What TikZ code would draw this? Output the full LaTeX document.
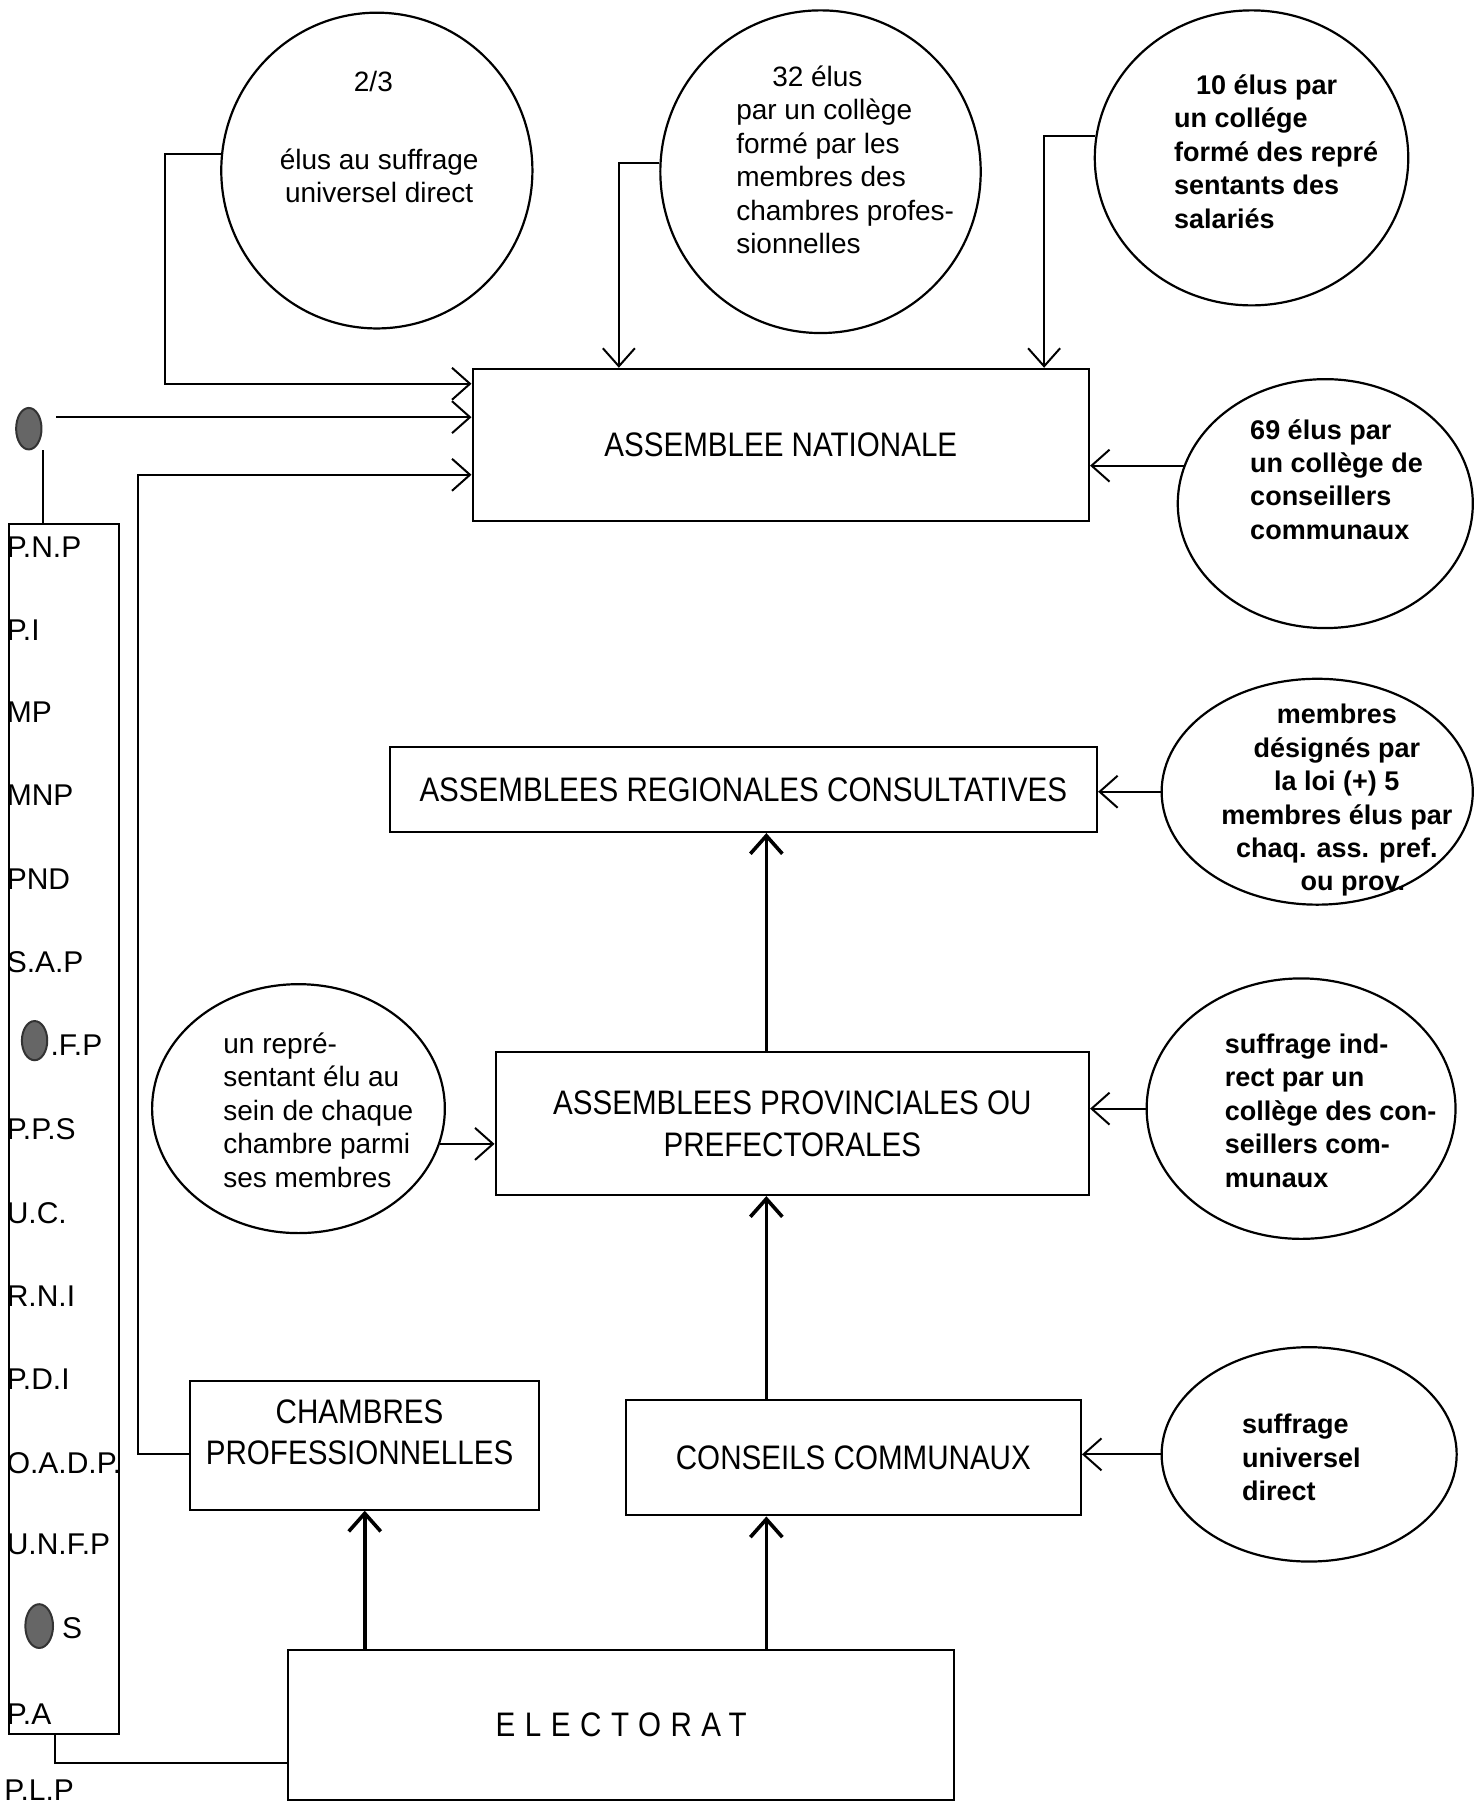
\documentclass[tikz,border=0pt]{standalone}
\usepackage{fontspec}
\setmainfont{Liberation Sans}
\newfontfamily\boxfont[FakeStretch=0.87]{Liberation Sans}
\newfontfamily\elfont[FakeStretch=0.87,LetterSpace=28]{Liberation Sans}
\newfontfamily\labfont{Liberation Sans}
\usetikzlibrary{arrows.meta,shapes.geometric,calc}
\newcommand\unitpx{0.57625pt}

\begin{document}
\begin{tikzpicture}[x=0.57625pt,y=-0.57625pt,
  line width=1pt,
  circ/.style={ellipse, draw, line width=1.1pt, inner sep=0pt},
  box/.style={draw, rectangle, inner sep=0pt, align=center,
    font=\boxfont\fontsize{17}{20.7}\selectfont},
  reg/.style={inner sep=0pt, font=\fontsize{14}{16.7}\selectfont},
  bld/.style={inner sep=0pt, font=\bfseries\fontsize{13.5}{16.7}\selectfont},
  party/.style={inner sep=0pt, anchor=base west, font=\labfont\fontsize{15}{16}\selectfont},
  arr/.style={-{Straight Barb[length=9pt,width=16pt]}},
  stem/.style={line width=1.8pt},
  blob/.style={ellipse, fill=black!60, draw=black!80, inner sep=0pt}
]
\useasboundingbox (0,0) rectangle (1285,1568);

% ---- ellipses with the election rules ----
\node[circ, minimum width=270*\unitpx, minimum height=274*\unitpx] (A) at (327,148) {};
\node[circ, minimum width=278*\unitpx, minimum height=280*\unitpx] (B) at (712,149) {};
\node[circ, minimum width=272*\unitpx, minimum height=256*\unitpx] (C) at (1086,137) {};
\node[circ, minimum width=256*\unitpx, minimum height=216*\unitpx] (D) at (1150,437) {};
\node[circ, minimum width=270*\unitpx, minimum height=196*\unitpx] (E) at (1143,687) {};
\node[circ, minimum width=254*\unitpx, minimum height=216*\unitpx] (F) at (259,962) {};
\node[circ, minimum width=268*\unitpx, minimum height=226*\unitpx] (G) at (1129,962) {};
\node[circ, minimum width=256*\unitpx, minimum height=186*\unitpx] (H) at (1136,1262) {};

% texts inside the ellipses (anchored on the baseline of their last line)
\node[reg, anchor=base] (At1) at (324,79) {2/3};
\node[reg, anchor=base, align=center] (At2) at (329,176) {élus au suffrage\\universel direct};
\node[reg, anchor=base west, align=left] (Bt) at (638,220)
  {\hspace*{18pt}32 élus\\par un collège\\formé par les\\membres des\\chambres profes-\\sionnelles};
\node[bld, anchor=base west, align=left] (Ct) at (1018,198)
  {\hspace*{11pt}10 élus par\\un collége\\formé des repré\\sentants des\\salariés};
\node[bld, anchor=base west, align=left] (Dt) at (1084,468)
  {69 élus par\\un collège de\\conseillers\\communaux};
\node[bld, anchor=base, align=center] (Et) at (1160,773)
  {membres\\désignés par\\la loi (+) 5\\membres élus par\\chaq. ass. pref.\\\hspace*{16pt}ou prov.};
\node[reg, anchor=base west, align=left] (Ft) at (193,1030)
  {un repré-\\sentant élu au\\sein de chaque\\chambre parmi\\ses membres};
\node[bld, anchor=base west, align=left] (Gt) at (1062,1030)
  {suffrage ind-\\rect par un\\collège des con-\\seillers com-\\munaux};
\node[bld, anchor=base west, align=left] (Ht) at (1077,1302)
  {suffrage\\universel\\direct};

% ---- institutions ----
\node[box, minimum width=535*\unitpx, minimum height=132*\unitpx] (AN) at (677.5,386) {ASSEMBLEE NATIONALE};
\node[box, minimum width=614*\unitpx, minimum height=74*\unitpx] (ARC) at (645,685) {ASSEMBLEES REGIONALES CONSULTATIVES};
\node[box, minimum width=515*\unitpx, minimum height=124*\unitpx] (APP) at (687.5,975) {ASSEMBLEES PROVINCIALES OU\\PREFECTORALES};
\node[box, minimum width=303*\unitpx, minimum height=112*\unitpx] (CH) at (316.5,1254) {};
\node[box, draw=none, anchor=center] (CHt) at (312,1243) {CHAMBRES\\PROFESSIONNELLES};
\node[box, minimum width=395*\unitpx, minimum height=100*\unitpx] (CC) at (740.5,1265) {CONSEILS COMMUNAUX};
\node[box, minimum width=578*\unitpx, minimum height=130*\unitpx] (EL) at (539,1497) {\elfont\fontsize{17}{20}\selectfont ELECTORAT};

% ---- column of political parties ----
\node[draw, rectangle, inner sep=0pt, minimum width=95*\unitpx, minimum height=1050*\unitpx] (col) at (55.5,980) {};
\foreach \t/\yy [count=\i] in {P.N.P/475, P.I/547, MP/618, MNP/690, PND/763, S.A.P/835,
    P.P.S/980, U.C./1053, R.N.I/1125, P.D.I/1197, O.A.D.P./1270, U.N.F.P/1340, P.A/1487}
  \node[party] (p\i) at (5,\yy+9) {\t};
\node[blob, minimum width=22*\unitpx, minimum height=34*\unitpx] (b2) at (30,903) {};
\node[party] (pF) at (43,916) {.F.P};
\node[blob, minimum width=24*\unitpx, minimum height=38*\unitpx] (b3) at (34,1411) {};
\node[party] (pS) at (53,1422) {S};
\node[party] (pPLP) at (3,1562) {P.L.P};
\node[blob, minimum width=22*\unitpx, minimum height=36*\unitpx] (b1) at (25,372) {};

% ---- bend points and vertical lanes ----
\coordinate (kA) at (143,333);
\coordinate (kC) at (120,412);
\coordinate (xB) at (537,0);
\coordinate (xC) at (906,0);
\coordinate (xV) at (665,0);
\coordinate (xb) at (37,0);
\coordinate (kb) at (48,1530);

% ---- connectors ----
\draw[arr] (A.174) -| (kA) -- (kA -| AN.west);
\draw[arr] (b1.east) ++(12,-10) -- ($(b1.east -| AN.west)+(0,-10)$);
\draw (b1.south -| xb) -- (col.north -| xb);
\draw[arr] ([yshift=-4.6pt]CH.west) -| (kC) -- (kC -| AN.west);
\draw[arr] (B.177) -| (xB |- AN.north);
\draw[arr] (C.172) -| (xC |- AN.north);
\draw[arr] (D.165) -- (D.165 -| AN.east);
\draw[arr] (E.west) -- (E.west -| ARC.east);
\draw[arr] (F.346) -- (F.346 -| APP.west);
\draw[arr] (G.west) -- (G.west -| APP.east);
\draw[arr] (H.west) -- (H.west -| CC.east);
\draw[arr, stem] (xV |- APP.north) -- (xV |- ARC.south);
\draw[arr, stem] (xV |- CC.north) -- (xV |- APP.south);
\draw[arr, stem] (xV |- EL.north) -- (xV |- CC.south);
\draw[arr, stem] (CH.south |- EL.north) -- (CH.south);
\draw (kb |- col.south) -- (kb) -- (kb -| EL.west);
\end{tikzpicture}
\end{document}
